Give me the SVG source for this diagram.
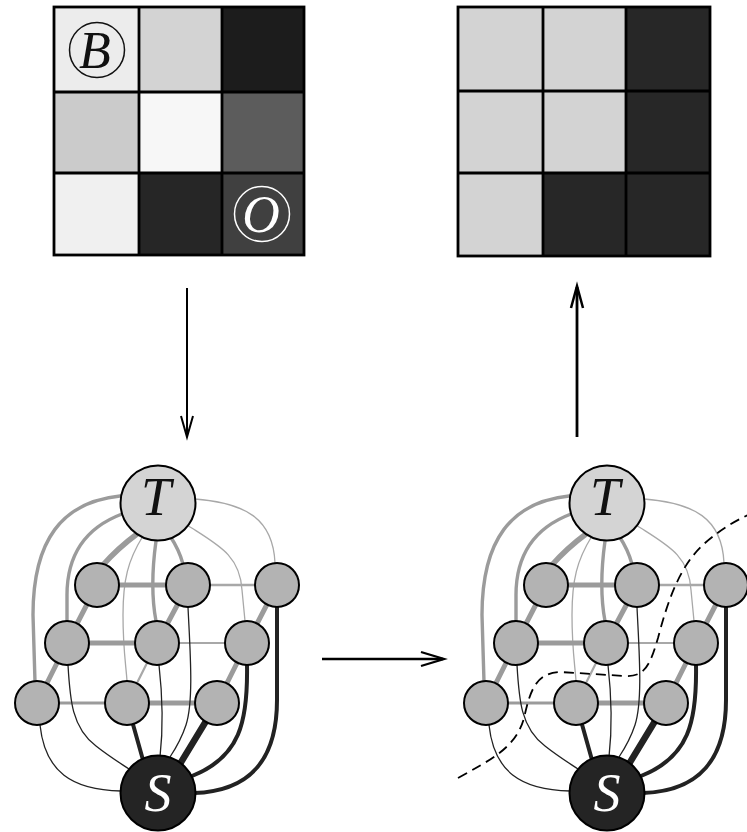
<svg xmlns="http://www.w3.org/2000/svg" width="747" height="832" viewBox="0 0 747 832">
<style>
  .grid { fill: none; stroke: #000; stroke-width: 2.8; }
  .arrow { fill: none; stroke: #000; stroke-linecap: butt; stroke-linejoin: miter; }
  .g { fill: none; stroke: #9b9b9b; stroke-linecap: round; }
  .gl { fill: none; stroke: #a8a8a8; stroke-linecap: round; }
  .k { fill: none; stroke: #222; stroke-linecap: round; }
  .n { fill: #b3b3b3; stroke: #000; stroke-width: 2; }
  .t { fill: #d4d4d4; stroke: #000; stroke-width: 2; }
  .s { fill: #242424; stroke: #000; stroke-width: 2; }
  .lbl { font-family: "Liberation Serif", "Times New Roman", "DejaVu Serif", serif; font-style: italic; text-anchor: middle; }
  .cut { fill: none; stroke: #000; stroke-width: 1.8; stroke-dasharray: 10 6; }
</style>
<rect width="747" height="832" fill="#fff"/>

<!-- top-left grid -->
<g id="grid-input">
  <rect x="54" y="7" width="85" height="85" fill="#ececec"/>
  <rect x="139" y="7" width="83" height="85" fill="#d3d3d3"/>
  <rect x="222" y="7" width="82" height="85" fill="#1c1c1c"/>
  <rect x="54" y="92" width="85" height="81" fill="#cbcbcb"/>
  <rect x="139" y="92" width="83" height="81" fill="#f7f7f7"/>
  <rect x="222" y="92" width="82" height="81" fill="#5c5c5c"/>
  <rect x="54" y="173" width="85" height="82" fill="#f0f0f0"/>
  <rect x="139" y="173" width="83" height="82" fill="#262626"/>
  <rect x="222" y="173" width="82" height="82" fill="#404040"/>
  <rect class="grid" x="54" y="7" width="250" height="248"/>
  <path class="grid" d="M139,7 V255 M222,7 V255 M54,92 H304 M54,173 H304"/>
  <g id="label-B">
    <circle cx="97" cy="50" r="27.5" fill="none" stroke="#111" stroke-width="1.5"/>
    <text class="lbl" x="95" y="68" font-family="Liberation Serif, serif" font-style="italic" font-size="52" fill="#111">B</text>
  </g>
  <g id="label-O">
    <circle cx="262" cy="214" r="27.5" fill="none" stroke="#fff" stroke-width="1.5"/>
    <text class="lbl" x="261" y="232" font-family="Liberation Serif, serif" font-style="italic" font-size="52" fill="#fff">O</text>
  </g>
</g>

<!-- top-right grid -->
<g id="grid-output">
  <rect x="458" y="7" width="85" height="84" fill="#d3d3d3"/>
  <rect x="543" y="7" width="83" height="84" fill="#d3d3d3"/>
  <rect x="626" y="7" width="84" height="84" fill="#272727"/>
  <rect x="458" y="91" width="85" height="82" fill="#d3d3d3"/>
  <rect x="543" y="91" width="83" height="82" fill="#d3d3d3"/>
  <rect x="626" y="91" width="84" height="82" fill="#272727"/>
  <rect x="458" y="173" width="85" height="83" fill="#d3d3d3"/>
  <rect x="543" y="173" width="83" height="83" fill="#272727"/>
  <rect x="626" y="173" width="84" height="83" fill="#272727"/>
  <rect class="grid" x="458" y="7" width="252" height="249"/>
  <path class="grid" d="M543,7 V256 M626,7 V256 M458,91 H710 M458,173 H710"/>
</g>

<!-- process arrows -->
<g id="arrows">
  <path class="arrow" stroke-width="2" d="M187,288 V437"/>
  <path class="arrow" stroke-width="2" d="M181,416 L187,437 L193,416"/>
  <path class="arrow" stroke-width="2.8" d="M577,437 V287"/>
  <path class="arrow" stroke-width="2.5" d="M571,308 L577,286 L583,308"/>
  <path class="arrow" stroke-width="2.3" d="M322,659 H443"/>
  <path class="arrow" stroke-width="2.3" d="M421,652 L444,659 L421,666"/>
</g>

<!-- left graph connectors -->
<g id="connectors-left">
  <path class="g" stroke-width="3.4" d="M120,496 C62,502 33,540 33,615 L35,682"/>
  <path class="g" stroke-width="3.4" d="M122,514 C85,528 67,555 67,595 L67,621"/>
  <path class="g" stroke-width="5.5" d="M137,534 Q118,548 102,566"/>
  <path class="gl" stroke-width="1.3" d="M143,536 C128,560 123,580 123,615 C123,650 126,665 127,681"/>
  <path class="g" stroke-width="3.4" d="M156,541 C152,570 152,600 156,621"/>
  <path class="g" stroke-width="3.4" d="M170,536 C176,545 180,553 183,564"/>
  <path class="gl" stroke-width="1.3" d="M187,525 C218,545 240,555 242,590 L245,621"/>
  <path class="gl" stroke-width="1.3" d="M195,499 C245,503 273,518 275,563"/>
  <path class="g" stroke-width="5" d="M97,585 H188"/>
  <path class="gl" stroke-width="2.4" d="M188,585 H277"/>
  <path class="g" stroke-width="5" d="M67,643 H157"/>
  <path class="gl" stroke-width="2.2" d="M157,643 H247"/>
  <path class="g" stroke-width="2.8" d="M37,703 H127"/>
  <path class="g" stroke="#8e8e8e" stroke-width="5" d="M127,703 H217"/>
  <path class="g" stroke-width="5" d="M97,585 L67,643"/>
  <path class="g" stroke-width="5" d="M67,643 L37,703"/>
  <path class="g" stroke-width="5" d="M188,585 L157,643"/>
  <path class="gl" stroke-width="2.2" d="M157,643 L127,703"/>
  <path class="g" stroke-width="5" d="M277,585 L247,643"/>
  <path class="g" stroke-width="5" d="M247,643 L217,703"/>
  <path class="k" stroke-width="1.3" d="M40,725 C45,772 72,790 121,791"/>
  <path class="k" stroke-width="1.3" d="M68,665 C70,700 72,728 96,746 C110,757 120,763 129,769"/>
  <path class="k" stroke-width="4" d="M127,703 L143,760"/>
  <path class="k" stroke-width="1.3" d="M159,665 C163,700 163,730 160,757"/>
  <path class="k" stroke-width="1.3" d="M188,607 C190,650 194,700 186,725 C181,740 176,748 170,757"/>
  <path class="k" stroke-width="6.5" d="M217,703 L180,764"/>
  <path class="k" stroke-width="4" d="M247,665 C248,722 240,757 192,776"/>
  <path class="k" stroke-width="4" d="M277,607 L277,700 C277,760 250,791 194,793"/>
</g>

<!-- left graph nodes -->
<g id="L-T"><circle class="t" cx="158" cy="503" r="37.5"/><text class="lbl" x="156" y="515" font-family="Liberation Serif, serif" font-style="italic" font-size="54" fill="#111">T</text></g>
<g id="L-S"><circle class="s" cx="158" cy="793" r="37.5"/><text class="lbl" x="158" y="811" font-family="Liberation Serif, serif" font-style="italic" font-size="54" fill="#fff">S</text></g>
<g id="L-A1"><circle class="n" cx="97" cy="585" r="22"/></g>
<g id="L-A2"><circle class="n" cx="188" cy="585" r="22"/></g>
<g id="L-A3"><circle class="n" cx="277" cy="585" r="22"/></g>
<g id="L-B1"><circle class="n" cx="67" cy="643" r="22"/></g>
<g id="L-B2"><circle class="n" cx="157" cy="643" r="22"/></g>
<g id="L-B3"><circle class="n" cx="247" cy="643" r="22"/></g>
<g id="L-C1"><circle class="n" cx="37" cy="703" r="22"/></g>
<g id="L-C2"><circle class="n" cx="127" cy="703" r="22"/></g>
<g id="L-C3"><circle class="n" cx="217" cy="703" r="22"/></g>

<!-- right graph connectors -->
<g id="connectors-right" transform="translate(449,0)">
  <path class="g" stroke-width="3.4" d="M120,496 C62,502 33,540 33,615 L35,682"/>
  <path class="g" stroke-width="3.4" d="M122,514 C85,528 67,555 67,595 L67,621"/>
  <path class="g" stroke-width="5.5" d="M137,534 Q118,548 102,566"/>
  <path class="gl" stroke-width="1.3" d="M143,536 C128,560 123,580 123,615 C123,650 126,665 127,681"/>
  <path class="g" stroke-width="3.4" d="M156,541 C152,570 152,600 156,621"/>
  <path class="g" stroke-width="3.4" d="M170,536 C176,545 180,553 183,564"/>
  <path class="gl" stroke-width="1.3" d="M187,525 C218,545 240,555 242,590 L245,621"/>
  <path class="gl" stroke-width="1.3" d="M195,499 C245,503 273,518 275,563"/>
  <path class="g" stroke-width="5" d="M97,585 H188"/>
  <path class="gl" stroke-width="2.4" d="M188,585 H277"/>
  <path class="g" stroke-width="5" d="M67,643 H157"/>
  <path class="gl" stroke-width="2.2" d="M157,643 H247"/>
  <path class="g" stroke-width="2.8" d="M37,703 H127"/>
  <path class="g" stroke="#8e8e8e" stroke-width="5" d="M127,703 H217"/>
  <path class="g" stroke-width="5" d="M97,585 L67,643"/>
  <path class="g" stroke-width="5" d="M67,643 L37,703"/>
  <path class="g" stroke-width="5" d="M188,585 L157,643"/>
  <path class="gl" stroke-width="2.2" d="M157,643 L127,703"/>
  <path class="g" stroke-width="5" d="M277,585 L247,643"/>
  <path class="g" stroke-width="5" d="M247,643 L217,703"/>
  <path class="k" stroke-width="1.3" d="M40,725 C45,772 72,790 121,791"/>
  <path class="k" stroke-width="1.3" d="M68,665 C70,700 72,728 96,746 C110,757 120,763 129,769"/>
  <path class="k" stroke-width="4" d="M127,703 L143,760"/>
  <path class="k" stroke-width="1.3" d="M159,665 C163,700 163,730 160,757"/>
  <path class="k" stroke-width="1.3" d="M188,607 C190,650 194,700 186,725 C181,740 176,748 170,757"/>
  <path class="k" stroke-width="6.5" d="M217,703 L180,764"/>
  <path class="k" stroke-width="4" d="M247,665 C248,722 240,757 192,776"/>
  <path class="k" stroke-width="4" d="M277,607 L277,700 C277,760 250,791 194,793"/>
</g>

<!-- right graph nodes -->
<g transform="translate(449,0)">
  <g id="R-T"><circle class="t" cx="158" cy="503" r="37.5"/><text class="lbl" x="156" y="515" font-family="Liberation Serif, serif" font-style="italic" font-size="54" fill="#111">T</text></g>
  <g id="R-S"><circle class="s" cx="158" cy="793" r="37.5"/><text class="lbl" x="158" y="811" font-family="Liberation Serif, serif" font-style="italic" font-size="54" fill="#fff">S</text></g>
  <g id="R-A1"><circle class="n" cx="97" cy="585" r="22"/></g>
  <g id="R-A2"><circle class="n" cx="188" cy="585" r="22"/></g>
  <g id="R-A3"><circle class="n" cx="277" cy="585" r="22"/></g>
  <g id="R-B1"><circle class="n" cx="67" cy="643" r="22"/></g>
  <g id="R-B2"><circle class="n" cx="157" cy="643" r="22"/></g>
  <g id="R-B3"><circle class="n" cx="247" cy="643" r="22"/></g>
  <g id="R-C1"><circle class="n" cx="37" cy="703" r="22"/></g>
  <g id="R-C2"><circle class="n" cx="127" cy="703" r="22"/></g>
  <g id="R-C3"><circle class="n" cx="217" cy="703" r="22"/></g>
</g>

<!-- cut line -->
<g id="cut">
  <path class="cut" d="M458,778 C490,760 516,748 524,718 C530,692 535,673 560,672 L625,676 C645,677 650,665 658,638 C668,600 680,565 705,543 C720,530 733,522 750,514"/>
</g>
</svg>
